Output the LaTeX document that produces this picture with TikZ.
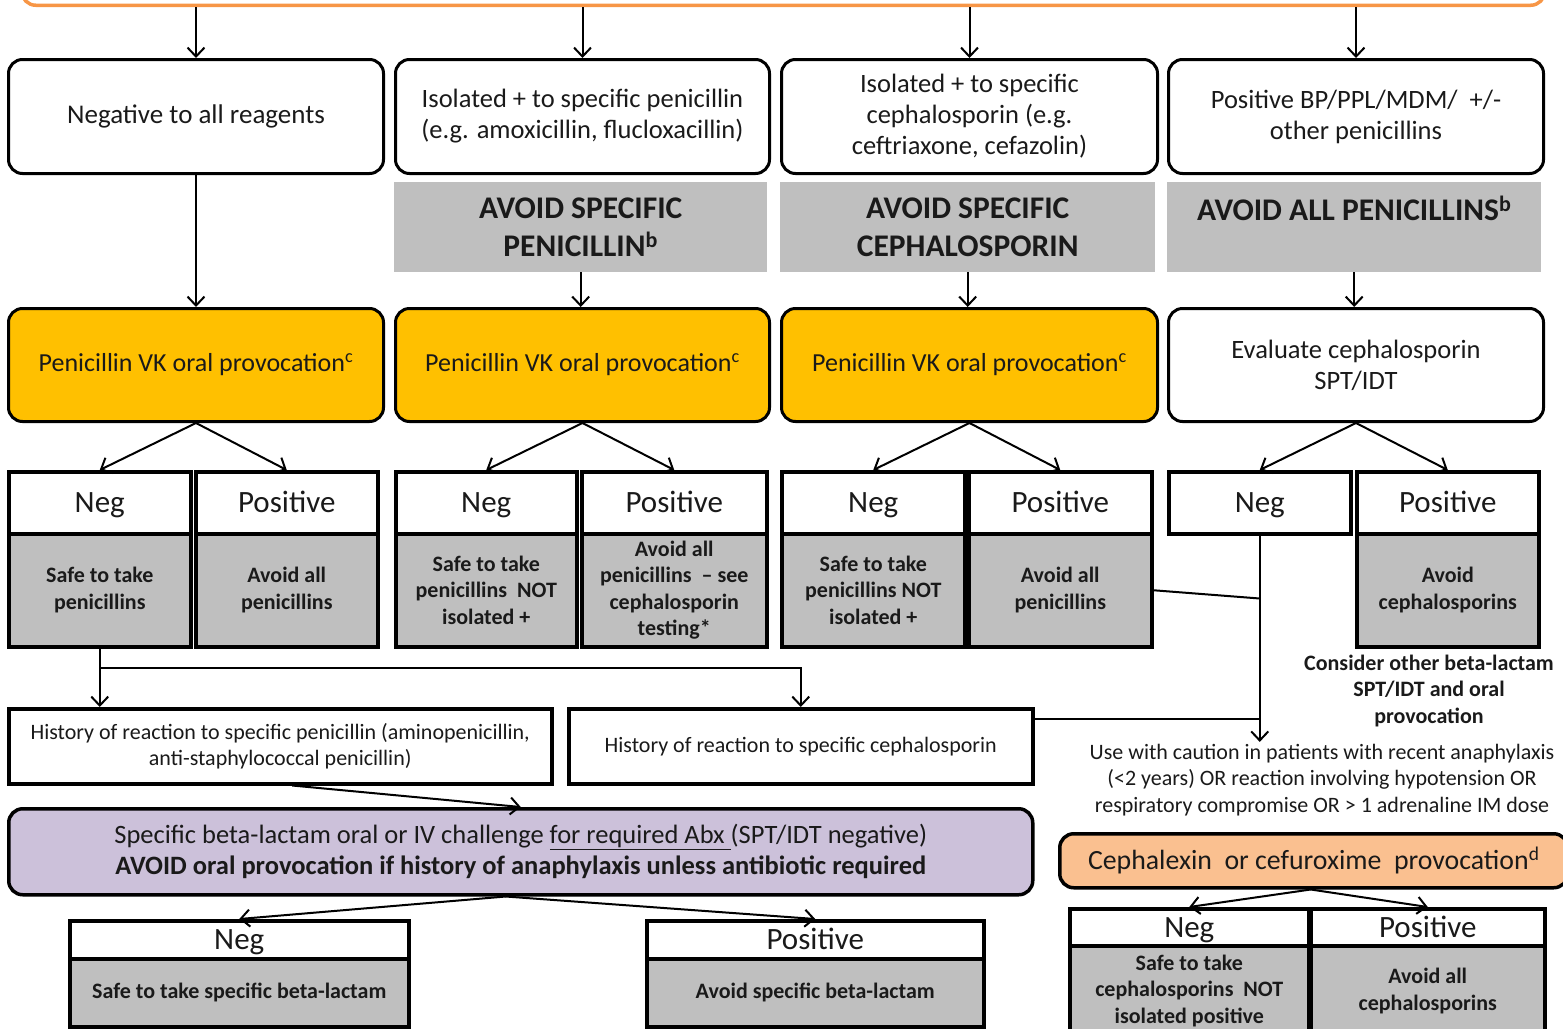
\documentclass[tikz,border=0pt]{standalone}
\usepackage{fontspec}
\setmainfont{Carlito}
\usetikzlibrary{arrows.meta,calc}
\definecolor{orangeL}{HTML}{F79646}
\definecolor{gold}{HTML}{FFC000}
\definecolor{grayf}{HTML}{BFBFBF}
\definecolor{lav}{HTML}{CCC1DA}
\definecolor{peach}{HTML}{FAC090}
\definecolor{txt}{HTML}{1A1A1A}
\begin{document}
\begin{tikzpicture}[x=1pt,y=-1pt,
  rbox/.style={draw, line width=3pt, rounded corners=14pt, anchor=north west, align=center, inner sep=0pt, text=txt, font=\fontsize{26.5}{31}\selectfont},
  banner/.style={fill=grayf, anchor=north west, align=center, inner sep=0pt, text=txt, font=\bfseries\fontsize{31.5}{38}\selectfont},
  hdr/.style={draw, line width=3.5pt, fill=white, anchor=north west, inner sep=0pt, text=txt, text height=20pt, text depth=0pt, font=\fontsize{31}{32}\selectfont},
  res/.style={draw, line width=3.5pt, fill=grayf, anchor=north west, inner sep=0pt, align=center, text=txt, font=\bfseries\fontsize{22}{26.5}\selectfont},
  sbox/.style={draw, line width=3.5pt, fill=white, anchor=north west, inner sep=0pt, align=center, text=txt, font=\fontsize{22}{26}\selectfont},
  note/.style={align=center, inner sep=2pt, text=txt, font=\fontsize{22}{26.5}\selectfont},
  arr/.style={line width=2pt, -{Straight Barb[length=9pt,width=17pt]}},
  ln/.style={line width=2pt}]
\useasboundingbox (0,0) rectangle (1563,1028);
\clip (0,0) rectangle (1563,1028);

% top box (partially visible)
\node[draw=orangeL, line width=3.5pt, rounded corners=14pt, minimum width=1523pt, minimum height=60pt, anchor=south west, inner sep=0pt] (top) at (20,7) {};

% row 1
\node[rbox, minimum width=375pt, minimum height=114pt, font=\fontsize{27}{31}\selectfont] (b1) at (7,58) {Negative to all reagents};
\node[rbox, minimum width=374pt, minimum height=114pt] (b2) at (394,58) {Isolated + to specific penicillin\\(e.g. amoxicillin, flucloxacillin)};
\node[rbox, minimum width=376pt, minimum height=114pt] (b3) at (780,58) {Isolated + to specific\\cephalosporin (e.g.\\ceftriaxone, cefazolin)};
\node[rbox, minimum width=375pt, minimum height=114pt] (b4) at (1167,58) {Positive BP/PPL/MDM/ \ +/-\\other penicillins};
\foreach \n in {b1,b2,b3,b4} \draw[arr] (\n.north |- top.south) -- (\n.north);

% banners
\node[banner, minimum width=373pt, minimum height=90pt] (g2) at (394,182) {AVOID SPECIFIC\\PENICILLIN\textsuperscript{b}};
\node[banner, minimum width=375pt, minimum height=90pt] (g3) at (780,182) {AVOID SPECIFIC\\CEPHALOSPORIN};
\node[banner, minimum width=374pt, minimum height=90pt] (g4) at (1167,182) {AVOID ALL PENICILLINS\textsuperscript{b}\\\mbox{}};

% row 2
\node[rbox, fill=gold, minimum width=375pt, minimum height=113pt, font=\fontsize{26}{31}\selectfont] (p1) at (7,307) {Penicillin VK oral provocation\textsuperscript{c}};
\node[rbox, fill=gold, minimum width=374pt, minimum height=113pt, font=\fontsize{26}{31}\selectfont] (p2) at (394,307) {Penicillin VK oral provocation\textsuperscript{c}};
\node[rbox, fill=gold, minimum width=376pt, minimum height=113pt, font=\fontsize{26}{31}\selectfont] (p3) at (780,307) {Penicillin VK oral provocation\textsuperscript{c}};
\node[rbox, fill=white, minimum width=375pt, minimum height=113pt] (e4) at (1167,307) {Evaluate cephalosporin\\SPT/IDT};
\draw[arr] (b1.south) -- (p1.north);
\draw[arr] (g2.south) -- (g2.south |- p2.north);
\draw[arr] (g3.south) -- (g3.south |- p3.north);
\draw[arr] (g4.south) -- (g4.south |- e4.north);

% row 3
\node[hdr, minimum width=182pt, minimum height=62pt] (n1h) at (7,470) {Neg};
\node[res, minimum width=182pt, minimum height=113pt] (n1g) at (7,532) {Safe to take\\penicillins};
\node[hdr, minimum width=182pt, minimum height=62pt] (q1h) at (194,470) {Positive};
\node[res, minimum width=182pt, minimum height=113pt] (q1g) at (194,532) {Avoid all\\penicillins};
\node[hdr, minimum width=181pt, minimum height=62pt] (n2h) at (394,470) {Neg};
\node[res, minimum width=181pt, minimum height=113pt] (n2g) at (394,532) {Safe to take\\penicillins \ NOT\\isolated +};
\node[hdr, minimum width=185pt, minimum height=62pt] (q2h) at (580,470) {Positive};
\node[res, minimum width=185pt, minimum height=113pt] (q2g) at (580,532) {Avoid all\\penicillins \ -- see\\cephalosporin\\testing*};
\node[hdr, minimum width=183pt, minimum height=62pt] (n3h) at (780,470) {Neg};
\node[res, minimum width=183pt, minimum height=113pt] (n3g) at (780,532) {Safe to take\\penicillins NOT\\isolated +};
\node[hdr, minimum width=183pt, minimum height=62pt] (q3h) at (967,470) {Positive};
\node[res, minimum width=183pt, minimum height=113pt] (q3g) at (967,532) {Avoid all\\penicillins};
\node[hdr, minimum width=182pt, minimum height=62pt] (n4h) at (1167,470) {Neg};
\node[hdr, minimum width=182pt, minimum height=62pt] (q4h) at (1355,470) {Positive};
\node[res, minimum width=182pt, minimum height=113pt] (q4g) at (1355,532) {Avoid\\cephalosporins};
\draw[arr] (p1.south) -- (n1h.north);
\draw[arr] (p1.south) -- (q1h.north);
\draw[arr] (p2.south) -- (n2h.north);
\draw[arr] (p2.south) -- (q2h.north);
\draw[arr] (p3.south) -- (n3h.north);
\draw[arr] (p3.south) -- (q3h.north);
\draw[arr] (e4.south) -- (n4h.north);
\draw[arr] (e4.south) -- (q4h.north);

% history boxes
\node[sbox, minimum width=543pt, minimum height=75pt] (hp) at (7,707) {History of reaction to specific penicillin (aminopenicillin,\\anti-staphylococcal penicillin)};
\node[sbox, minimum width=464pt, minimum height=75pt] (hc) at (567,707) {History of reaction to specific cephalosporin};
\coordinate (jy) at (0,668);
\draw[arr] (n1g.south) -- (n1g.south |- hp.north);
\draw[arr] (n1g.south |- jy) -| (hc.north);

% right notes
\node[note, font=\bfseries\fontsize{22}{26.5}\selectfont] (consider) at (1429,691) {Consider other beta-lactam\\SPT/IDT and oral\\provocation};
\node[note] (caution) at (1322,780) {Use with caution in patients with recent anaphylaxis\\(<2 years) OR reaction involving hypotension OR\\respiratory compromise OR > 1 adrenaline IM dose};
\coordinate (hcr) at ($(hc.north east)+(0,12)$);
\coordinate (vj) at ($(n4h.south)+(0,63)$);
\draw[arr] (n4h.south) -- (n4h.south |- caution.north);
\draw[ln] (hcr) -- (n4h.south |- hcr);
\draw[ln] (q3g.east) -- (vj);

% challenge box
\node[rbox, fill=lav, line width=3.5pt, minimum width=1024pt, minimum height=86pt, font=\fontsize{26.5}{31}\selectfont] (chal) at (7,807) {Specific beta-lactam oral or IV challenge \underline{for required Abx\ }(SPT/IDT negative)\\\textbf{AVOID oral provocation if history of anaphylaxis unless antibiotic required}};
\draw[arr] ($(hp.south)+(12,0)$) -- (chal.north);

\node[hdr, minimum width=339pt, minimum height=38pt] (n5h) at (68,919) {Neg};
\node[res, minimum width=339pt, minimum height=68pt] (n5g) at (68,957) {Safe to take specific beta-lactam};
\node[hdr, minimum width=337pt, minimum height=38pt] (q5h) at (645,919) {Positive};
\node[res, minimum width=337pt, minimum height=68pt] (q5g) at (645,957) {Avoid specific beta-lactam};
\draw[arr] ($(chal.south)+(-15,0)$) -- (n5h.north);
\draw[arr] ($(chal.south)+(-15,0)$) -- (q5h.north);

% cephalexin
\node[rbox, fill=peach, line width=3.5pt, minimum width=508pt, minimum height=54pt, font=\fontsize{27.8}{31}\selectfont] (ceph) at (1058,832) {Cephalexin\ \ or cefuroxime\ \ provocation\textsuperscript{d}};
\node[hdr, minimum width=239pt, minimum height=37pt] (n6h) at (1068,907) {Neg};
\node[res, minimum width=239pt, minimum height=90pt] (n6g) at (1068,944) {Safe to take\\cephalosporins \ NOT\\isolated positive};
\node[hdr, minimum width=234pt, minimum height=37pt] (q6h) at (1309,907) {Positive};
\node[res, minimum width=234pt, minimum height=90pt] (q6g) at (1309,944) {Avoid all\\cephalosporins};
\draw[arr] ($(ceph.south)+(-3,0)$) -- (n6h.north);
\draw[arr] ($(ceph.south)+(-3,0)$) -- (q6h.north);
\end{tikzpicture}
\end{document}
